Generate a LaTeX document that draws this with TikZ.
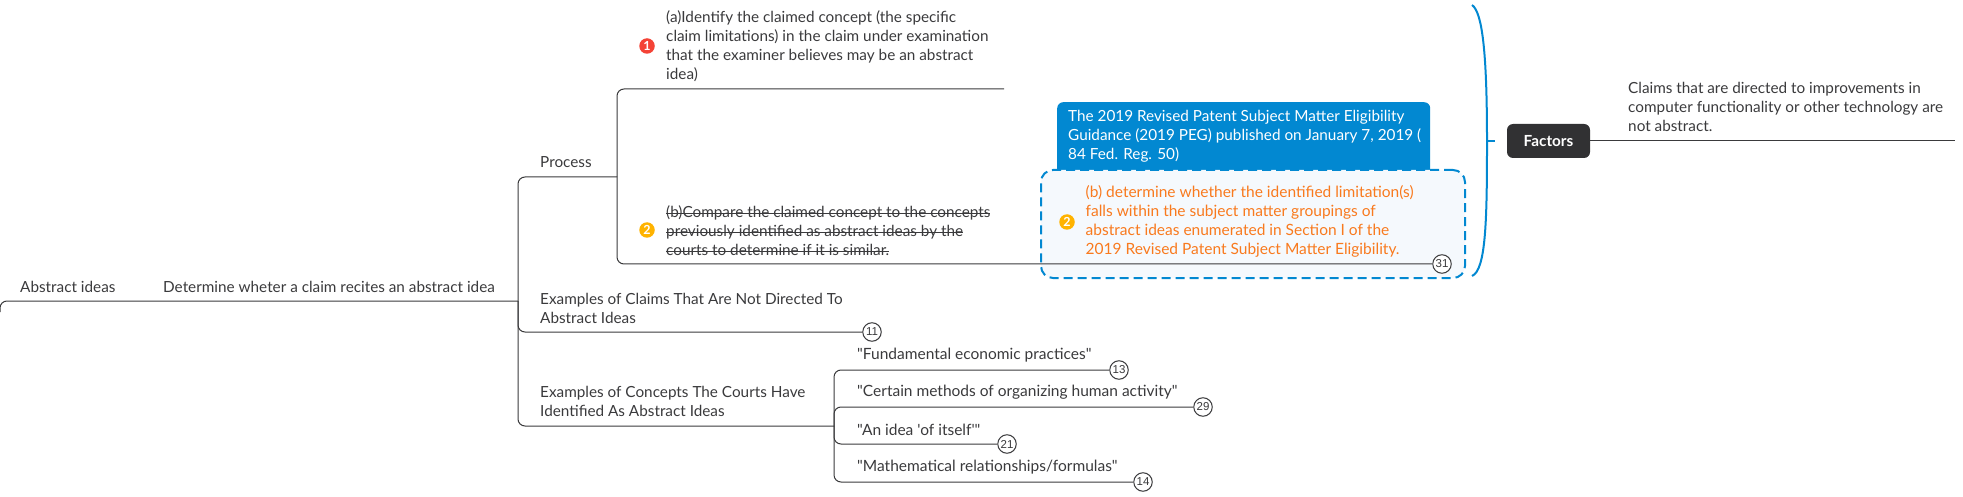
\documentclass[tikz,border=0pt]{standalone}
\usepackage{fontspec}
\setmainfont{Lato}
\newfontfamily\rawf{Lato}
\newfontfamily\arialf{Liberation Sans}
\definecolor{ink}{HTML}{3A3A3C}
\definecolor{linec}{HTML}{3A3A3C}
\definecolor{blueb}{HTML}{0288D1}
\definecolor{orangeT}{HTML}{F97A1E}
\definecolor{paleb}{HTML}{F5F9FD}
\definecolor{iconred}{HTML}{F44336}
\definecolor{iconamber}{HTML}{FFB300}
\newcommand\strk[1]{\leavevmode\setbox0\hbox{#1}\rlap{\rule[0.28em]{\wd0}{0.8pt}}\box0}
\tikzset{
 lab/.style={anchor=west,inner sep=0pt,align=left,text=ink,font=\fontsize{15.3}{19}\selectfont},
 wide/.style={font=\fontsize{15.5}{19}\selectfont},
 conn/.style={draw=linec,line width=1pt,rounded corners=7pt},
 cnt/.style={circle,draw=ink,fill=white,line width=1pt,minimum size=18.5pt,inner sep=0pt,text=ink,font=\fontsize{11.5}{12}\arialf},
 icon/.style={circle,minimum size=15.5pt,inner sep=0pt,text=white,font=\fontsize{12.5}{12.5}\bfseries\selectfont},
}
\begin{document}
\begin{tikzpicture}[x=1pt,y=-1pt]
\useasboundingbox (0,0) rectangle (1963,497);
% dashed box and blue box
\node[anchor=north west,fill=blueb,rounded corners=6pt,minimum width=373pt,minimum height=75pt,inner sep=0pt] (bluebox) at (1057,102) {};
\node[lab,text=white] (bluetext) at (1068,136) {The 2019 Revised Patent Subject Matter Eligibility\\Guidance (2019 PEG) published on January 7, 2019 (\\84 Fed. Reg. 50)};
\node[anchor=north west,draw=blueb,fill=paleb,dash pattern=on 9pt off 5pt,line width=2pt,rounded corners=12pt,minimum width=424pt,minimum height=108pt,inner sep=0pt] (dashbox) at (1040,169) {};
% junctions
\coordinate (left) at (0,312);
\coordinate (j1) at (518,301);
\coordinate (j2) at (617,177);
\coordinate (j3) at (834,426);
\coordinate (aend) at (1004,89);
\coordinate (fend) at (1955,141);
% labels
\node[lab] (abs) at (20,287) {Abstract ideas};
\node[lab] (det) at (163,287) {Determine wheter a claim recites an abstract idea};
\node[lab] (proc) at (540,162) {Process};
\node[lab] (exA) at (540,308) {Examples of Claims That Are Not Directed To\\Abstract Ideas};
\node[lab] (exB) at (540,401) {Examples of Concepts The Courts Have\\Identified As Abstract Ideas};
\node[lab] (ta) at (666,46) {(a)Identify the claimed concept (the specific\\claim limitations) in the claim under examination\\that the examiner believes may be an abstract\\idea)};
\node[lab] (tb) at (666,231) {\strk{(b)Compare the claimed concept to the concepts}\\\strk{previously identified as abstract ideas by the}\\\strk{courts to determine if it is similar.}};
\node[lab,wide,text=orangeT] (to) at (1085.5,221) {(b) determine whether the identified limitation(s)\\falls within the subject matter groupings of\\abstract ideas enumerated in Section I of the\\2019 Revised Patent Subject Matter Eligibility.};
\node[lab,wide] (q1) at (857,355) {\rawf "Fundamental economic practices"};
\node[lab,wide] (q2) at (857,392) {\rawf "Certain methods of organizing human activity"};
\node[lab,wide] (q3) at (857,430) {\rawf "An idea 'of itself'"};
\node[lab,wide] (q4) at (857,467) {\rawf "Mathematical relationships/formulas"};
\node[lab] (cl) at (1628,107) {Claims that are directed to improvements in\\computer functionality or other technology are\\not abstract.};
% icons
\node[icon,fill=iconred] (i1) at (647,46) {1};
\node[icon,fill=iconamber] (i2) at (647,230) {2};
\node[icon,fill=iconamber] (i3) at (1067,222) {2};
% factors
\node[fill=ink!85!black,rounded corners=6pt,minimum width=83pt,minimum height=34pt,inner sep=0pt,text=white,font=\fontsize{15.3}{19}\bfseries\selectfont] (fac) at (1548.5,141) {Factors};
% count bubbles
\node[cnt] (c31) at (1442,264) {31};
\node[cnt] (c11) at (872,332) {11};
\node[cnt] (c13) at (1119,370) {13};
\node[cnt] (c29) at (1203,407) {29};
\node[cnt] (c21) at (1007,444) {21};
\node[cnt] (c14) at (1143,482) {14};
% connectors
\draw[conn] (left) |- (j1);
\draw[conn] (j2) |- (aend);
\draw[conn] (j2) |- (c31);
\draw[conn] (j1) |- (j2);
\draw[conn] (j1) |- (c11);
\draw[conn] (j1) |- (j3);
\draw[conn] (j3) |- (c13);
\draw[conn] (j3) |- (c29);
\draw[conn] (j3) |- (c21);
\draw[conn] (j3) |- (c14);
\draw[conn] (fac.east) -- (fend);
% bracket
\coordinate (btop) at (1472,5);
\coordinate (bbot) at (1472,276);
\coordinate (bmid) at (1487,141);
\draw[draw=blueb,line width=2pt] (btop) .. controls (1482,12) and (1487,50) .. (bmid) .. controls (1487,220) and (1486,270) .. (bbot);
\draw[draw=blueb,line width=2pt] (bmid) -- (1495,141);
\end{tikzpicture}
\end{document}
